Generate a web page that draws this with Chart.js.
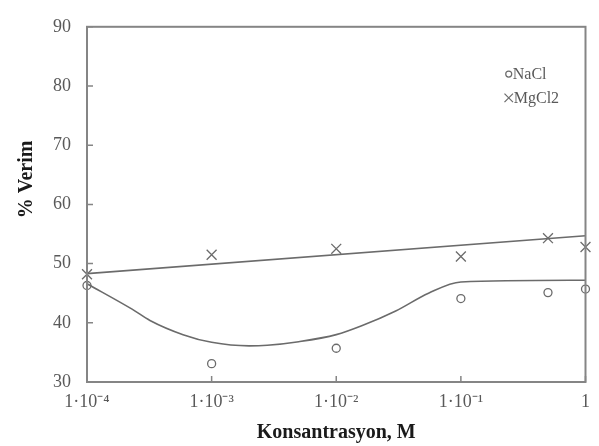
<!DOCTYPE html>
<html>
<head>
<meta charset="utf-8">
<script src="https://cdn.jsdelivr.net/npm/chart.js@4"></script>
<style>
  html, body { margin: 0; padding: 0; background: #fff; }
  #wrap { width: 599px; height: 446px; }
</style>
</head>
<body>
<div id="wrap"><canvas id="chart"></canvas></div>
<script>
// ===============================
// DATA
// ===============================
const concentrations = [1e-4, 1e-3, 1e-2, 1e-1, 0.5, 1];
const naclYield = [46.3, 33.1, 35.7, 44.1, 45.1, 45.7];
const mgcl2Yield = [48.2, 51.5, 52.5, 51.2, 54.3, 52.8];

// trend curves
const naclFitX = [1e-4, 2.3e-4, 3.2e-4, 5.9e-4, 1e-3, 2e-3, 2.8e-3, 5e-3, 1e-2, 1.6e-2, 3e-2, 5.5e-2, 1e-1, 1];
const naclFitY = [46.6, 42.3, 40.4, 38.0, 36.7, 36.1, 36.2, 36.8, 38.0, 39.5, 42.0, 45.0, 46.9, 47.2];
const mgcl2FitX = [1e-4, 1];
const mgcl2FitY = [48.3, 54.7];

const xTickValues = [1e-4, 1e-3, 1e-2, 1e-1, 1];
const xTickLabels = ["1·10⁻⁴", "1·10⁻³", "1·10⁻²", "1·10⁻¹", "1"];
const yTickValues = [30, 40, 50, 60, 70, 80, 90];

const seriesNames = ["NaCl", "MgCl2"];

// ===============================
// STYLE
// ===============================
const axisGray = "#858585";
const markGray = "#6b6b6b";
const textGray = "#595959";
const serif = "'Liberation Serif', 'Times New Roman', serif";

function pairs(xs, ys) {
  return xs.map((x, i) => ({ x: x, y: ys[i] }));
}

// ===============================
// PLUGINS
// ===============================
const frameAndTicks = {
  id: "frameAndTicks",
  afterDraw(chart) {
    const ctx = chart.ctx;
    const a = chart.chartArea;
    const xs = chart.scales.x;
    const ys = chart.scales.y;
    ctx.save();
    ctx.strokeStyle = axisGray;
    ctx.lineWidth = 2;
    ctx.strokeRect(a.left, a.top, a.right - a.left, a.bottom - a.top);
    ctx.lineWidth = 1.5;
    ctx.beginPath();
    yTickValues.forEach(v => {
      const py = ys.getPixelForValue(v);
      ctx.moveTo(a.left, py);
      ctx.lineTo(a.left + 6, py);
    });
    xTickValues.forEach(v => {
      const px = xs.getPixelForValue(v);
      ctx.moveTo(px, a.bottom);
      ctx.lineTo(px, a.bottom - 6);
    });
    ctx.stroke();
    ctx.restore();
  }
};

const innerLegend = {
  id: "innerLegend",
  afterDraw(chart) {
    const ctx = chart.ctx;
    const a = chart.chartArea;
    const w = a.right - a.left;
    const h = a.bottom - a.top;
    const mx = a.left + w * 0.846;
    const rows = [a.top + h * 0.133, a.top + h * 0.2];
    ctx.save();
    ctx.font = "16px " + serif;
    ctx.textBaseline = "middle";
    rows.forEach((ry, i) => {
      const ds = chart.data.datasets[i];
      ctx.fillStyle = "rgba(255,255,255,0)";
      ctx.strokeStyle = markGray;
      ctx.lineWidth = 1.2;
      Chart.helpers.drawPoint(ctx, {
        pointStyle: ds.pointStyle,
        radius: i === 0 ? 3 : 6,
        rotation: 0,
        borderWidth: 1.2
      }, mx, ry);
      ctx.fillStyle = textGray;
      ctx.fillText(seriesNames[i], mx + (i === 0 ? 4 : 5), ry + 1);
    });
    ctx.restore();
  }
};

// ===============================
// CHART
// ===============================
new Chart(document.getElementById("chart"), {
  type: "scatter",
  data: {
    datasets: [
      {
        label: seriesNames[0],
        data: pairs(concentrations, naclYield),
        pointStyle: "circle",
        pointRadius: 4,
        pointBorderWidth: 1.3,
        pointBorderColor: markGray,
        pointBackgroundColor: "rgba(255,255,255,0)",
        showLine: false,
        clip: false
      },
      {
        label: seriesNames[1],
        data: pairs(concentrations, mgcl2Yield),
        pointStyle: "crossRot",
        pointRadius: 7,
        pointBorderWidth: 1.3,
        pointBorderColor: markGray,
        showLine: false,
        clip: false
      },
      {
        label: "NaCl fit",
        data: pairs(naclFitX, naclFitY),
        showLine: true,
        pointRadius: 0,
        borderColor: markGray,
        borderWidth: 1.6,
        cubicInterpolationMode: "monotone"
      },
      {
        label: "MgCl2 fit",
        data: pairs(mgcl2FitX, mgcl2FitY),
        showLine: true,
        pointRadius: 0,
        borderColor: markGray,
        borderWidth: 1.6
      }
    ]
  },
  options: {
    responsive: true,
    maintainAspectRatio: false,
    animation: false,
    layout: { padding: { left: 0, right: 12, top: 13, bottom: 0 } },
    plugins: {
      legend: { display: false },
      tooltip: { enabled: false }
    },
    scales: {
      x: {
        type: "logarithmic",
        min: 1e-4,
        max: 1,
        afterBuildTicks: scale => {
          scale.ticks = xTickValues.map(v => ({ value: v }));
        },
        afterFit: scale => { scale.height = 64; },
        grid: { display: false, drawTicks: false },
        border: { display: false },
        ticks: {
          autoSkip: false,
          maxRotation: 0,
          padding: 9,
          color: textGray,
          font: { family: serif, size: 18 },
          callback: value => {
            const i = xTickValues.findIndex(v => Math.abs(v - value) / v < 1e-6);
            return i >= 0 ? xTickLabels[i] : "";
          }
        },
        title: {
          display: true,
          text: "Konsantrasyon, M",
          color: "#1a1a1a",
          font: { family: serif, size: 20, weight: "bold" },
          padding: { top: 0, bottom: 1 }
        }
      },
      y: {
        min: 30,
        max: 90,
        afterBuildTicks: scale => {
          scale.ticks = yTickValues.map(v => ({ value: v }));
        },
        afterFit: scale => { scale.width = 87; },
        grid: { display: false, drawTicks: false },
        border: { display: false },
        ticks: {
          padding: 16,
          color: textGray,
          font: { family: serif, size: 18 }
        },
        title: {
          display: true,
          // en spaces in front lift the title above the axis centre, as in the source
          text: "\u2002\u2002\u2002\u2002\u2002% Verim",
          color: "#1a1a1a",
          font: { family: serif, size: 20, weight: "bold" },
          padding: { top: 15, bottom: 0 }
        }
      }
    }
  },
  plugins: [frameAndTicks, innerLegend]
});
</script>
</body>
</html>
